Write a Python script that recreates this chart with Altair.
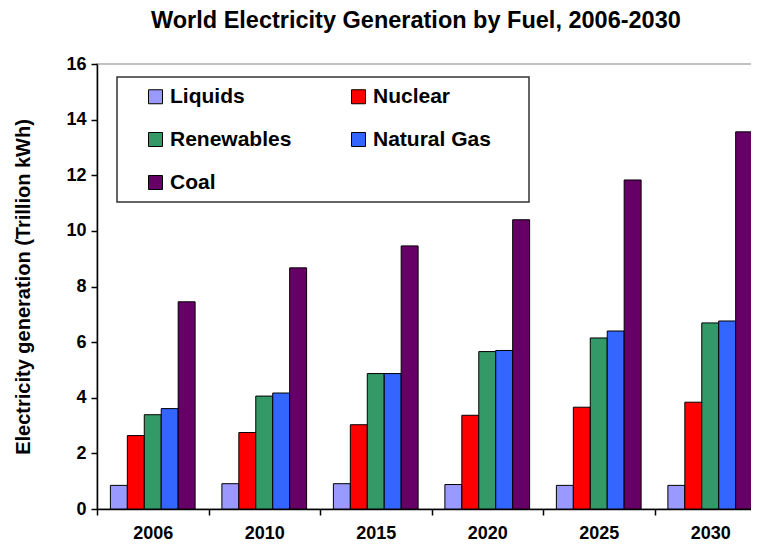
import altair as alt
import pandas as pd

years = ["2006", "2010", "2015", "2020", "2025", "2030"]
fuels = ["Liquids", "Nuclear", "Renewables", "Natural Gas", "Coal"]
colors = ["#9999FF", "#FF0000", "#339966", "#3366FF", "#660066"]

liquids = [0.85, 0.91, 0.91, 0.88, 0.85, 0.85]
nuclear = [2.64, 2.75, 3.03, 3.37, 3.66, 3.84]
renewables = [3.39, 4.06, 4.87, 5.66, 6.15, 6.69]
natural_gas = [3.61, 4.17, 4.87, 5.70, 6.40, 6.76]
coal = [7.45, 8.67, 9.46, 10.40, 11.83, 13.56]

series = [liquids, nuclear, renewables, natural_gas, coal]
rows = []
for fuel, vals in zip(fuels, series):
    for yr, v in zip(years, vals):
        rows.append({"Year": yr, "Fuel": fuel, "Value": v})
df = pd.DataFrame(rows)

FONT = "Liberation Sans"

bars = alt.Chart(df).mark_bar(stroke="black", strokeWidth=1).encode(
    x=alt.X("Year:N", sort=years,
            scale=alt.Scale(paddingInner=0, paddingOuter=0),
            axis=alt.Axis(title=None, labelAngle=0, tickBand="extent",
                          labelFont=FONT, labelFontSize=18, labelFontWeight="bold",
                          labelColor="black", labelPadding=9, tickSize=6,
                          tickColor="black", domainColor="black", domainWidth=1.5,
                          tickWidth=1.5, grid=False)),
    xOffset=alt.XOffset("Fuel:N", sort=fuels,
                        scale=alt.Scale(domain=fuels, paddingInner=0, paddingOuter=0.79)),
    y=alt.Y("Value:Q", scale=alt.Scale(domain=[0, 16], nice=False),
            axis=alt.Axis(title="Electricity generation (Trillion kWh)",
                          values=[0, 2, 4, 6, 8, 10, 12, 14, 16],
                          labelFont=FONT, labelFontSize=18, labelFontWeight="bold",
                          labelColor="black", labelPadding=5, tickSize=6,
                          tickColor="black", domainColor="black", domainWidth=1.5,
                          tickWidth=1.5, grid=False,
                          titleFont=FONT, titleFontSize=20, titleFontWeight="bold",
                          titleColor="black", titlePadding=32)),
    color=alt.Color("Fuel:N", sort=fuels,
                    scale=alt.Scale(domain=fuels, range=colors),
                    legend=alt.Legend(title=".", titleOrient="right", titleColor="white",
                                      titleFontSize=6, titlePadding=27,
                                      orient="none", legendX=20, legendY=13,
                                      columns=2, direction="horizontal",
                                      symbolType="square", symbolSize=196,
                                      symbolStrokeColor="black", symbolStrokeWidth=1,
                                      symbolOffset=19, labelOffset=4,
                                      labelFont=FONT, labelFontSize=21,
                                      labelFontWeight="bold", labelColor="black",
                                      rowPadding=21, columnPadding=37,
                                      padding=9, strokeColor="#333333",
                                      fillColor="white")),
)

chart = bars.properties(
    width=669,
    height=445,
    title=alt.TitleParams("World Electricity Generation by Fuel, 2006-2030",
                          font=FONT, fontSize=23.5, fontWeight="bold", color="black",
                          anchor="start", frame="group", dx=54, offset=23),
    autosize=alt.AutoSizeParams(type="none"),
    padding={"left": 89, "top": 56, "right": -15, "bottom": 32},
).configure_view(stroke="#c0c0c0", strokeWidth=2).configure_legend(strokeWidth=1.5)

chart.save("out.html", embed_options={"renderer": "svg", "actions": False})
